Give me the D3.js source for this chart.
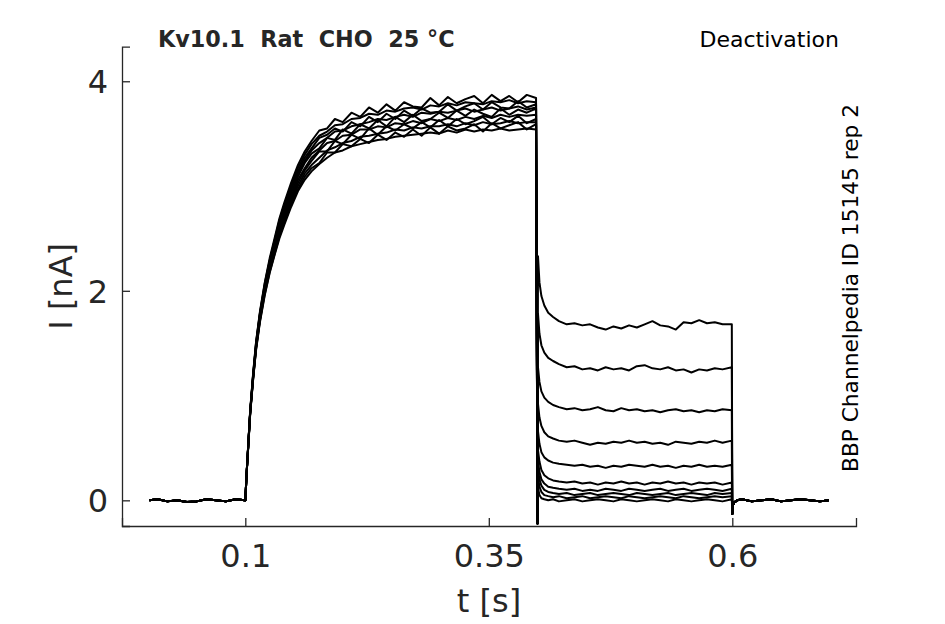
<!DOCTYPE html>
<html>
<head>
<meta charset="utf-8">
<script src="https://cdn.jsdelivr.net/npm/d3@7"></script>
<style>
  html, body { margin: 0; padding: 0; background: #fff; }
  svg text { font-family: "DejaVu Sans", sans-serif; fill: #262626; }
</style>
</head>
<body>
<svg id="chart" width="945" height="624"></svg>
<script>
  // baseline before the step (shared by every sweep, they overlap)
  const tPre = [0.0015, 0.01, 0.02, 0.03, 0.04, 0.05, 0.06, 0.07, 0.08, 0.09, 0.0995];
  const iPre = [0.0, 0.01, -0.01, 0.0, -0.015, -0.01, 0.01, 0.0, -0.01, 0.01, 0.0];

  // activation at the test pulse
  const tAct = [0.1, 0.1015, 0.103, 0.105, 0.108, 0.111, 0.115, 0.12, 0.125, 0.13, 0.135, 0.14,
    0.147, 0.154, 0.161, 0.168, 0.176, 0.184, 0.192, 0.2, 0.209, 0.218, 0.227, 0.236, 0.245,
    0.254, 0.263, 0.272, 0.281, 0.29, 0.299, 0.308, 0.317, 0.326, 0.335, 0.344, 0.353, 0.362,
    0.371, 0.38, 0.389, 0.3985];
  const actA = [0, 0.28, 0.53, 0.86, 1.21, 1.51, 1.80, 2.08, 2.31, 2.50, 2.69, 2.84, 3.03, 3.20, 3.33, 3.43, 3.53, 3.55, 3.64, 3.61, 3.70, 3.66, 3.75, 3.70, 3.78, 3.72, 3.80, 3.76, 3.75, 3.84, 3.77, 3.85, 3.79, 3.83, 3.86, 3.79, 3.87, 3.81, 3.86, 3.80, 3.87, 3.84];
  const actB = [0, 0.28, 0.53, 0.85, 1.20, 1.50, 1.79, 2.07, 2.29, 2.48, 2.67, 2.82, 3.00, 3.17, 3.30, 3.40, 3.48, 3.52, 3.58, 3.59, 3.64, 3.65, 3.69, 3.68, 3.72, 3.71, 3.74, 3.75, 3.73, 3.77, 3.76, 3.79, 3.77, 3.80, 3.79, 3.78, 3.81, 3.80, 3.82, 3.79, 3.81, 3.80];
  const actC = [0, 0.28, 0.52, 0.85, 1.19, 1.49, 1.78, 2.05, 2.28, 2.47, 2.64, 2.80, 2.98, 3.14, 3.27, 3.36, 3.46, 3.49, 3.55, 3.52, 3.61, 3.57, 3.66, 3.61, 3.69, 3.64, 3.72, 3.67, 3.74, 3.70, 3.71, 3.78, 3.72, 3.76, 3.79, 3.73, 3.80, 3.75, 3.74, 3.81, 3.75, 3.78];
  const actD = [0, 0.28, 0.52, 0.84, 1.19, 1.48, 1.77, 2.04, 2.26, 2.45, 2.63, 2.77, 2.96, 3.12, 3.24, 3.34, 3.41, 3.46, 3.52, 3.53, 3.57, 3.59, 3.61, 3.64, 3.63, 3.66, 3.68, 3.66, 3.70, 3.69, 3.71, 3.70, 3.72, 3.74, 3.71, 3.73, 3.75, 3.72, 3.74, 3.76, 3.73, 3.75];
  const actE = [0, 0.28, 0.52, 0.84, 1.18, 1.47, 1.76, 2.03, 2.25, 2.43, 2.61, 2.75, 2.93, 3.09, 3.22, 3.31, 3.36, 3.46, 3.44, 3.54, 3.50, 3.59, 3.55, 3.63, 3.57, 3.66, 3.61, 3.68, 3.62, 3.64, 3.70, 3.65, 3.72, 3.67, 3.73, 3.69, 3.66, 3.74, 3.68, 3.73, 3.70, 3.74];
  const actF = [0, 0.28, 0.52, 0.84, 1.17, 1.46, 1.74, 2.01, 2.23, 2.41, 2.58, 2.72, 2.90, 3.06, 3.17, 3.27, 3.34, 3.41, 3.43, 3.48, 3.49, 3.54, 3.54, 3.57, 3.56, 3.60, 3.59, 3.62, 3.60, 3.64, 3.62, 3.65, 3.63, 3.66, 3.64, 3.67, 3.65, 3.68, 3.66, 3.68, 3.67, 3.68];
  const actG = [0, 0.28, 0.52, 0.84, 1.17, 1.46, 1.73, 2.00, 2.21, 2.39, 2.56, 2.70, 2.87, 3.03, 3.15, 3.24, 3.33, 3.33, 3.43, 3.40, 3.49, 3.45, 3.55, 3.49, 3.57, 3.53, 3.59, 3.55, 3.61, 3.56, 3.63, 3.57, 3.64, 3.59, 3.62, 3.66, 3.59, 3.65, 3.61, 3.67, 3.60, 3.64];
  const actH = [0, 0.28, 0.51, 0.83, 1.16, 1.45, 1.72, 1.99, 2.20, 2.37, 2.54, 2.68, 2.85, 3.00, 3.12, 3.20, 3.27, 3.34, 3.37, 3.41, 3.43, 3.47, 3.48, 3.50, 3.51, 3.54, 3.53, 3.56, 3.55, 3.57, 3.57, 3.59, 3.57, 3.60, 3.58, 3.61, 3.59, 3.60, 3.62, 3.60, 3.61, 3.61];
  const actI = [0, 0.28, 0.51, 0.83, 1.16, 1.44, 1.71, 1.97, 2.18, 2.35, 2.52, 2.65, 2.82, 2.97, 3.09, 3.17, 3.22, 3.32, 3.32, 3.40, 3.38, 3.45, 3.41, 3.49, 3.44, 3.51, 3.47, 3.54, 3.48, 3.56, 3.50, 3.57, 3.53, 3.55, 3.59, 3.52, 3.60, 3.55, 3.58, 3.61, 3.54, 3.59];
  const actJ = [0, 0.28, 0.51, 0.82, 1.15, 1.43, 1.70, 1.96, 2.17, 2.34, 2.50, 2.63, 2.80, 2.95, 3.06, 3.14, 3.21, 3.27, 3.32, 3.34, 3.38, 3.40, 3.42, 3.44, 3.45, 3.47, 3.48, 3.49, 3.50, 3.51, 3.50, 3.53, 3.51, 3.54, 3.52, 3.54, 3.53, 3.55, 3.53, 3.54, 3.55, 3.54];

  // tail currents at the deactivating step
  const tTail = [0.4, 0.4005, 0.402, 0.404, 0.407, 0.411, 0.416, 0.422, 0.43, 0.438, 0.446, 0.454,
    0.462, 0.47, 0.478, 0.486, 0.494, 0.502, 0.51, 0.518, 0.526, 0.534, 0.542, 0.55, 0.558,
    0.566, 0.574, 0.582, 0.59, 0.5995];
  const tailA = [-0.22, 2.33, 2.08, 1.95, 1.86, 1.79, 1.75, 1.71, 1.68, 1.69, 1.67, 1.68, 1.65, 1.63, 1.66, 1.64, 1.67, 1.65, 1.68, 1.71, 1.67, 1.66, 1.63, 1.70, 1.69, 1.72, 1.69, 1.70, 1.68, 1.68];
  const tailB = [-0.22, 1.78, 1.59, 1.48, 1.41, 1.36, 1.33, 1.30, 1.27, 1.28, 1.25, 1.26, 1.24, 1.27, 1.25, 1.26, 1.24, 1.28, 1.29, 1.26, 1.25, 1.27, 1.24, 1.25, 1.22, 1.25, 1.24, 1.26, 1.25, 1.27];
  const tailC = [-0.22, 1.27, 1.13, 1.04, 0.98, 0.94, 0.91, 0.89, 0.87, 0.88, 0.86, 0.87, 0.89, 0.86, 0.85, 0.88, 0.86, 0.87, 0.85, 0.86, 0.84, 0.86, 0.87, 0.85, 0.86, 0.84, 0.86, 0.85, 0.87, 0.86];
  const tailD = [-0.22, 0.92, 0.79, 0.71, 0.65, 0.61, 0.59, 0.57, 0.56, 0.57, 0.55, 0.53, 0.55, 0.54, 0.56, 0.55, 0.57, 0.55, 0.56, 0.54, 0.55, 0.53, 0.56, 0.55, 0.54, 0.56, 0.55, 0.57, 0.55, 0.57];
  const tailE = [-0.22, 0.66, 0.54, 0.46, 0.41, 0.38, 0.36, 0.35, 0.34, 0.33, 0.34, 0.32, 0.33, 0.31, 0.33, 0.32, 0.34, 0.33, 0.32, 0.34, 0.32, 0.33, 0.31, 0.33, 0.32, 0.34, 0.32, 0.33, 0.32, 0.34];
  const tailF = [-0.22, 0.48, 0.37, 0.29, 0.24, 0.21, 0.19, 0.18, 0.17, 0.18, 0.16, 0.17, 0.15, 0.17, 0.16, 0.18, 0.16, 0.17, 0.15, 0.17, 0.16, 0.18, 0.16, 0.17, 0.15, 0.17, 0.16, 0.17, 0.15, 0.17];
  const tailG = [-0.22, 0.38, 0.27, 0.20, 0.16, 0.13, 0.12, 0.11, 0.10, 0.11, 0.09, 0.10, 0.09, 0.11, 0.10, 0.09, 0.11, 0.10, 0.09, 0.10, 0.11, 0.09, 0.10, 0.11, 0.09, 0.10, 0.11, 0.10, 0.09, 0.11];
  const tailH = [-0.22, 0.30, 0.20, 0.14, 0.10, 0.08, 0.07, 0.06, 0.07, 0.05, 0.06, 0.07, 0.05, 0.06, 0.07, 0.06, 0.05, 0.07, 0.06, 0.05, 0.06, 0.07, 0.05, 0.06, 0.07, 0.06, 0.05, 0.07, 0.06, 0.07];
  const tailI = [-0.22, 0.22, 0.13, 0.08, 0.05, 0.04, 0.03, 0.04, 0.02, 0.03, 0.04, 0.02, 0.03, 0.04, 0.03, 0.02, 0.04, 0.03, 0.02, 0.03, 0.04, 0.03, 0.02, 0.04, 0.03, 0.02, 0.03, 0.04, 0.03, 0.04];
  const tailJ = [-0.22, 0.12, 0.05, 0.02, 0.01, 0.0, 0.01, -0.01, 0.0, 0.01, -0.01, 0.0, 0.01, 0.0, -0.01, 0.01, 0.0, -0.01, 0.0, 0.01, 0.0, -0.01, 0.01, 0.0, -0.01, 0.0, 0.01, 0.0, -0.01, 0.01];

  // back to holding (shared)
  const tPost = [0.6, 0.6005, 0.602, 0.605, 0.61, 0.62, 0.63, 0.64, 0.65, 0.66, 0.67, 0.68, 0.69, 0.699];
  const iPost = [-0.13, -0.05, -0.02, 0.0, 0.01, -0.01, 0.0, 0.01, -0.01, 0.0, 0.01, 0.0, -0.01, 0.0];

  const activation = [actA, actB, actC, actD, actE, actF, actG, actH, actI, actJ];
  const tails = [tailA, tailB, tailC, tailD, tailE, tailF, tailG, tailH, tailI, tailJ];

  const xTicks = [0.1, 0.35, 0.6];
  const yTicks = [0, 2, 4];
  const titleText = "Kv10.1  Rat  CHO  25 °C";
  const protocolText = "Deactivation";
  const sideText = "BBP Channelpedia ID 15145 rep 2";

  const svg = d3.select("#chart");
  const axisColor = "#262626";

  const x = d3.scaleLinear().domain([-0.0266, 0.727]).range([122, 856]);
  const y = d3.scaleLinear().domain([-0.245, 4.33]).range([526, 46.7]);

  function zip(ts, vs) {
    return ts.map((t, i) => [t, vs[i]]);
  }

  const sweeps = activation.map((act, k) =>
    zip(tPre, iPre)
      .concat(zip(tAct, act))
      .concat(zip(tTail, tails[k]))
      .concat(zip(tPost, iPost))
  );

  const line = d3.line()
    .x(d => x(d[0]))
    .y(d => y(d[1]));

  svg.append("g")
    .selectAll("path")
    .data(sweeps)
    .join("path")
    .attr("d", line)
    .attr("fill", "none")
    .attr("stroke", "#000")
    .attr("stroke-width", 2)
    .attr("stroke-linejoin", "round");

  // axes, matlab style: ticks point inward, no box
  const xAxis = svg.append("g")
    .attr("transform", `translate(0,${y.range()[0]})`)
    .call(d3.axisBottom(x).tickValues(xTicks).tickSize(-8).tickPadding(18).tickFormat(d3.format("")));
  const yAxis = svg.append("g")
    .attr("transform", `translate(${x.range()[0]},0)`)
    .call(d3.axisLeft(y).tickValues(yTicks).tickSize(-8).tickPadding(14).tickFormat(d3.format("")));

  [xAxis, yAxis].forEach(g => {
    g.select(".domain").attr("stroke", axisColor).attr("stroke-width", 1.3);
    g.selectAll(".tick line").attr("stroke", axisColor).attr("stroke-width", 1.3);
    g.selectAll(".tick text")
      .attr("fill", axisColor)
      .style("font-family", "DejaVu Sans, sans-serif")
      .style("font-size", "32px");
  });
  xAxis.selectAll(".tick text").attr("dy", "0.72em");
  yAxis.selectAll(".tick text").attr("dy", "0.36em");

  svg.append("text")
    .attr("x", 489)
    .attr("y", 612)
    .attr("text-anchor", "middle")
    .style("font-size", "32px")
    .text("t [s]");

  svg.append("text")
    .attr("transform", `translate(71.5,${(y.range()[0] + y.range()[1]) / 2}) rotate(-90)`)
    .attr("text-anchor", "middle")
    .style("font-size", "32px")
    .text("I [nA]");

  svg.append("text")
    .attr("x", 158)
    .attr("y", 47)
    .style("font-size", "22.3px")
    .style("font-weight", "bold")
    .style("white-space", "pre")
    .attr("fill", "#000")
    .text(titleText);

  svg.append("text")
    .attr("x", 839)
    .attr("y", 47)
    .attr("text-anchor", "end")
    .style("font-size", "22px")
    .style("fill", "#000")
    .text(protocolText);

  svg.append("text")
    .attr("transform", "translate(857.5,472) rotate(-90)")
    .style("font-size", "21.7px")
    .style("fill", "#000")
    .text(sideText);
</script>
</body>
</html>
